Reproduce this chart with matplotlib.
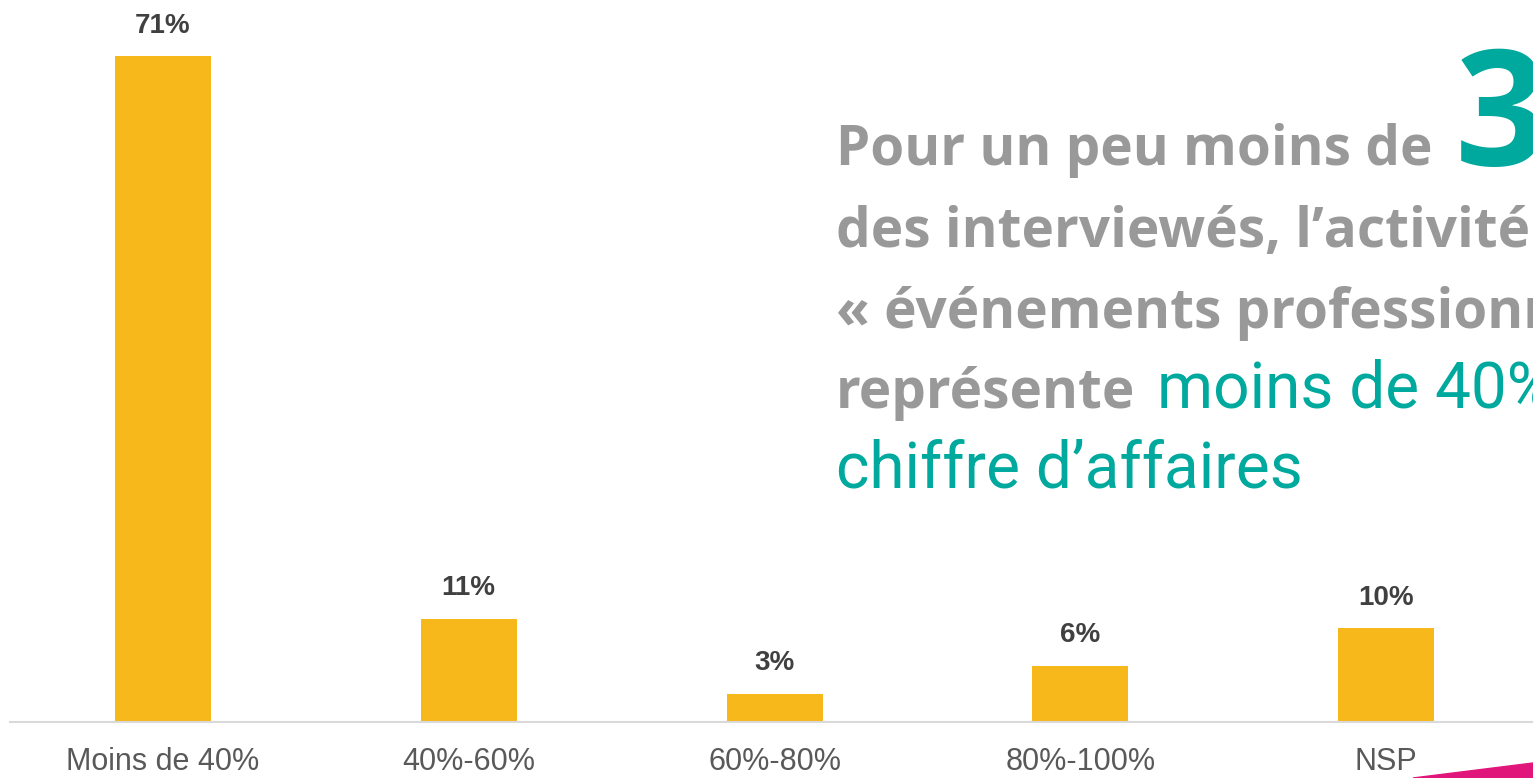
import numpy as np
import matplotlib.pyplot as plt
from matplotlib.patches import Polygon

# data
categories = ["Moins de 40%", "40%-60%", "60%-80%", "80%-100%", "NSP"]
values = [71, 11, 3, 6, 10]
value_labels = ["71%", "11%", "3%", "6%", "10%"]

BAR = "#F6B81A"
GREY = "#999999"
TEAL = "#00A99D"
PINK = "#E0167A"

W, H = 1533, 778
fig = plt.figure(figsize=(W / 100, H / 100), dpi=100)
ax = fig.add_axes([10 / W, 56 / H, (W - 10) / W, 722 / H])

x = np.arange(len(categories))
ax.bar(x, values, width=0.314, color=BAR, zorder=2)
for xi, v, lab in zip(x, values, value_labels):
    ax.annotate(lab, (xi, v), xytext=(0, 17), textcoords="offset points",
                ha="center", va="baseline", fontsize=20, fontweight="bold",
                color="#404040", family="Liberation Sans")

ax.set_xlim(-0.5, 4.48)
ax.set_ylim(0, 77)
ax.set_xticks(x)
ax.set_xticklabels(categories, family="Liberation Sans", fontsize=22, color="#595959")
ax.set_yticks([])
ax.tick_params(axis="x", length=0, pad=18)
for s in ["top", "left", "right"]:
    ax.spines[s].set_visible(False)
ax.spines["bottom"].set_color("#D9D9D9")
ax.spines["bottom"].set_linewidth(1.5)

# text block on the right (runs off the right edge, like the reference)
fig.canvas.draw()
r = fig.canvas.get_renderer()
bold = dict(family="Open Sans", fontweight="bold", fontsize=39.5, color=GREY)
light = dict(family="Roboto", fontsize=46, color=TEAL)


def line(parts, x0, y0, gap=22):
    xpx = x0
    for s, kw in parts:
        t = fig.text(xpx / W, 1 - y0 / H, s, va="baseline", ha="left", **kw)
        bb = t.get_window_extent(r)
        xpx = bb.x1 + gap


line([("Pour un peu moins de", bold),
      ("3", dict(bold, fontsize=116, color=TEAL))], 836, 165)
line([("des interviewés, l’activité", bold)], 836, 247)
line([("« événements professionnels", bold)], 836, 328)
line([("représente", bold), ("moins de 40%", light)], 836, 408)
line([("chiffre d’affaires", light)], 836, 488)

fig.patches.append(Polygon([(1413 / W, 0), (1, 15 / H), (1, 0)],
                           transform=fig.transFigure, color=PINK))

fig.savefig("out.png", dpi=100)
